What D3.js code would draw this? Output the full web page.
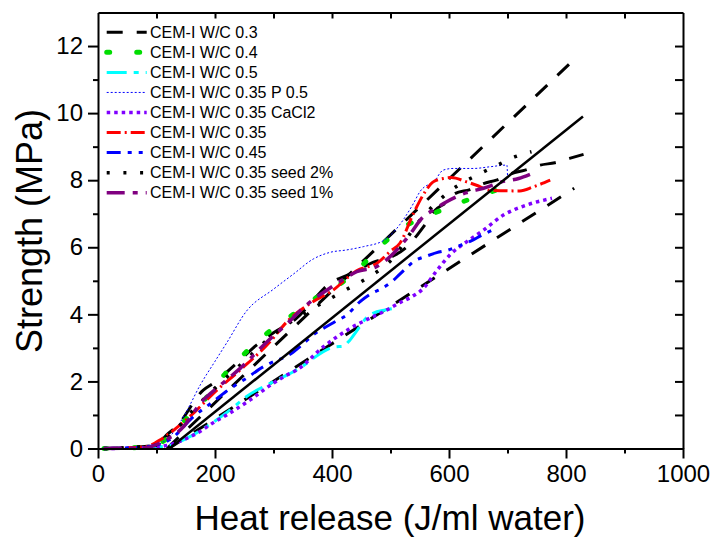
<!DOCTYPE html>
<html>
<head>
<meta charset="utf-8">
<script src="https://cdn.jsdelivr.net/npm/d3@7"></script>
<style>
body { margin: 0; background: #fff; }
svg { display: block; font-family: "Liberation Sans", Arial, sans-serif; }
</style>
</head>
<body>
<svg width="713" height="540"></svg>
<script>
// values: [heat release (J/ml water), strength (MPa)]
var wc03 = [[10,0],[100,0.1],[117,0.4],[134,0.65],[180,1.74],[197,1.94],[237,2.54],[271,3.08],[300,3.45],[339,3.88],[377,4.6],[391,4.85],[430,5.2],[470,5.55],[508,5.77],[525,5.97],[560,6.7],[576,7.1],[596,7.35],[610,7.6],[636,7.72],[659,7.9],[681,8.0],[707,8.2],[730,8.3],[756,8.45],[781,8.52],[806,8.65],[830,8.77]];
var wc04 = [[10,0],[60,0.02],[100,0.12],[125,0.4],[152,0.9],[186,1.53],[217,2.22],[251,2.84],[288,3.42],[330,3.95],[368,4.44],[411,4.87],[452,5.47],[485,6.07],[525,6.63],[567,6.96],[616,7.31],[662,7.59],[710,7.88]];
var wc05 = [[10,0],[80,0.02],[120,0.08],[151,0.3],[194,0.75],[226,1.15],[254,1.55],[300,1.99],[317,2.14],[334,2.29],[357,2.54],[368,2.69],[405,3.03],[420,3.05],[428,3.18],[442,3.5],[459,3.9],[470,4.03],[491,4.13],[508,4.18]];
var wc035p = [[10,0],[60,0],[100,0.1],[125,0.4],[148,1.0],[175,1.9],[200,2.6],[220,3.15],[254,4.1],[300,4.75],[334,5.2],[368,5.65],[397,5.85],[425,5.92],[454,6.02],[488,6.2],[505,6.45],[539,7.3],[550,7.65],[576,8.0],[590,8.3],[607,8.35],[642,8.35],[670,8.4],[699,8.45],[700,8.15]];
var wc035cacl2 = [[10,0],[80,0.02],[120,0.1],[145,0.25],[169,0.45],[200,0.8],[220,1.0],[260,1.45],[300,1.95],[323,2.19],[340,2.34],[385,3.03],[431,3.58],[476,3.98],[488,4.08],[516,4.35],[536,4.52],[556,4.77],[579,5.3],[602,5.78],[630,6.16],[659,6.51],[693,6.96],[733,7.26],[776,7.46]];
var wc035 = [[10,0],[80,0.05],[110,0.3],[140,0.7],[166,1.1],[200,1.69],[243,2.34],[294,3.18],[323,3.78],[365,4.35],[400,4.7],[442,5.3],[479,5.55],[499,5.87],[516,6.12],[539,7.0],[559,7.65],[573,7.95],[590,8.05],[604,8.08],[630,7.95],[647,7.85],[670,7.7],[721,7.68],[744,7.8],[773,8.0]];
var wc045 = [[10,0],[80,0.05],[110,0.15],[126,0.3],[160,0.9],[197,1.4],[219,1.7],[254,2.1],[283,2.44],[294,2.54],[331,2.84],[348,3.08],[371,3.43],[385,3.58],[405,3.78],[425,3.98],[448,4.38],[468,4.63],[485,4.77],[502,4.97],[516,5.2],[544,5.62],[559,5.72],[579,5.84],[599,5.92],[617,6.04],[638,6.19],[656,6.36],[675,6.52]];
var seed2 = [[10,0],[100,0.1],[130,0.5],[160,1.1],[200,1.8],[250,2.6],[300,3.4],[350,4.0],[400,4.5],[431,4.8],[459,5.07],[500,5.6],[550,6.8],[602,7.68],[656,8.22],[683,8.45],[713,8.7],[741,8.85]];
var seed1 = [[10,0],[80,0.02],[110,0.2],[146,0.65],[175,1.35],[210,1.9],[243,2.39],[290,3.2],[325,3.75],[345,4.1],[371,4.48],[391,4.72],[422,5.07],[442,5.27],[476,5.42],[496,5.67],[530,6.31],[556,6.91],[573,7.11],[596,7.36],[630,7.63],[659,7.76],[690,7.95],[719,8.05],[739,8.18]];

// linear fit and the two bounding lines (not in the legend)
var fitLine = [[122,0],[829,9.9]];
var upperBound = [[118,0],[818,11.67]];
var lowerBound = [[121,0],[814,7.76]];

var seriesNames = ["CEM-I W/C 0.3","CEM-I W/C 0.4","CEM-I W/C 0.5","CEM-I W/C 0.35 P 0.5","CEM-I W/C 0.35 CaCl2","CEM-I W/C 0.35","CEM-I W/C 0.45","CEM-I W/C 0.35 seed 2%","CEM-I W/C 0.35 seed 1%"];
var seriesData = [wc03, wc04, wc05, wc035p, wc035cacl2, wc035, wc045, seed2, seed1];

var xTicks = [0,200,400,600,800,1000];
var yTicks = [0,2,4,6,8,10,12];

var styles = [
    {color: "#000000", width: 3, dash: "16,14", cap: "butt"},
    {color: "#00dd00", width: 5, dash: "3,27", cap: "round"},
    {color: "#00ffff", width: 3, dash: "20,7,5,7", cap: "butt"},
    {color: "#0000ff", width: 1, dash: "2,2", cap: "butt"},
    {color: "#8000ff", width: 3.5, dash: "3.5,4", cap: "butt"},
    {color: "#ff0000", width: 3, dash: "14,4,2,4", cap: "butt"},
    {color: "#0000ff", width: 3, dash: "14,7,4,7,4,7", cap: "butt"},
    {color: "#000000", width: 3.5, dash: "3,13.7", cap: "butt"},
    {color: "#800080", width: 3.5, dash: "18,8,5,8", cap: "butt"}
];

var svg = d3.select("svg");

var x = d3.scaleLinear().domain([0, 1000]).range([98, 683]);
var y = d3.scaleLinear().domain([0, 13]).range([448.5, 12.5]);

var line = d3.line()
    .x(function(d) { return x(d[0]); })
    .y(function(d) { return y(d[1]); })
    .curve(d3.curveMonotoneX);

// fit and bounds
svg.append("path").attr("d", line(upperBound))
    .attr("fill", "none").attr("stroke", "#000").attr("stroke-width", 3).attr("stroke-dasharray", "16,14");
svg.append("path").attr("d", line(lowerBound))
    .attr("fill", "none").attr("stroke", "#000").attr("stroke-width", 3).attr("stroke-dasharray", "16,14");

// data curves
seriesData.forEach(function(s, i) {
    var st = styles[i];
    svg.append("path")
        .attr("d", line(s))
        .attr("fill", "none")
        .attr("stroke", st.color)
        .attr("stroke-width", st.width)
        .attr("stroke-dasharray", st.dash)
        .attr("stroke-linecap", st.cap);
});

svg.append("path").attr("d", line(fitLine))
    .attr("fill", "none").attr("stroke", "#000").attr("stroke-width", 2.5);

// axes
function styleAxis(g) {
    g.select(".domain").attr("stroke", "#000").attr("stroke-width", 2);
    g.selectAll(".tick line").attr("stroke", "#000").attr("stroke-width", 2);
    g.selectAll(".tick text").attr("fill", "#000").style("font-size", "24px")
        .style("font-family", "'Liberation Sans', Arial, sans-serif");
}

var bottom = svg.append("g").attr("transform", "translate(0,448.5)")
    .call(d3.axisBottom(x).tickValues(xTicks).tickSize(10).tickSizeOuter(0).tickPadding(6).tickFormat(d3.format("d")));
styleAxis(bottom);
svg.append("g").attr("transform", "translate(0,448.5)")
    .call(d3.axisBottom(x).tickValues([100,300,500,700,900]).tickSize(5).tickFormat(""))
    .call(function(g) { g.select(".domain").remove(); styleAxis(g); });

var left = svg.append("g").attr("transform", "translate(98,0)")
    .call(d3.axisLeft(y).tickValues(yTicks).tickSize(10).tickSizeOuter(0).tickPadding(5));
styleAxis(left);
svg.append("g").attr("transform", "translate(98,0)")
    .call(d3.axisLeft(y).tickValues([1,3,5,7,9,11]).tickSize(5).tickFormat(""))
    .call(function(g) { g.select(".domain").remove(); styleAxis(g); });

svg.append("g").attr("transform", "translate(0,12.5)")
    .call(d3.axisTop(x).tickValues(d3.range(100, 1000, 100)).tickSize(-6).tickSizeOuter(0).tickFormat(""))
    .call(styleAxis);
svg.append("g").attr("transform", "translate(683,0)")
    .call(d3.axisRight(y).tickValues(d3.range(1, 13, 1)).tickSize(-8).tickSizeOuter(0).tickFormat(""))
    .call(styleAxis);

// axis titles
svg.append("text")
    .attr("x", 390).attr("y", 530)
    .attr("text-anchor", "middle")
    .style("font-size", "35px")
    .text("Heat release (J/ml water)");

svg.append("text")
    .attr("transform", "translate(42,231) rotate(-90)")
    .attr("text-anchor", "middle")
    .style("font-size", "36px")
    .text("Strength (MPa)");

// legend
var legend = svg.append("g");
seriesNames.forEach(function(name, i) {
    var st = styles[i];
    var ly = 32.3 + i * 20.05;
    legend.append("line")
        .attr("x1", 106.7).attr("x2", 146.7)
        .attr("y1", ly).attr("y2", ly)
        .attr("stroke", st.color)
        .attr("stroke-width", st.width)
        .attr("stroke-dasharray", st.dash)
        .attr("stroke-linecap", st.cap);
    legend.append("text")
        .attr("x", 150).attr("y", ly + 5.6)
        .style("font-size", "16px")
        .text(name);
});
</script>
</body>
</html>
